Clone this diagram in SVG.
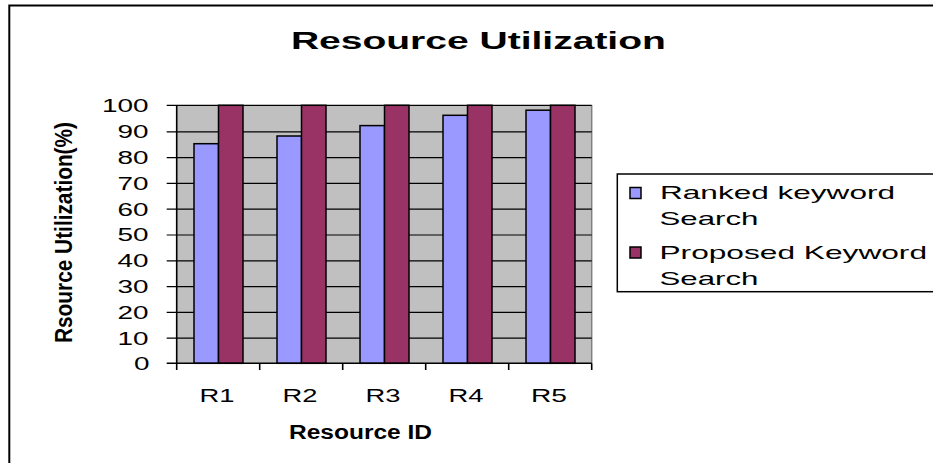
<svg xmlns="http://www.w3.org/2000/svg" width="933" height="463" viewBox="0 0 933 463">
  <style>
    text { font-family: "Liberation Sans", Arial, sans-serif; fill: #000; }
    .title { font-size: 23px; font-weight: bold; }
    .axis-title { font-size: 20px; font-weight: bold; }
    .tick { font-size: 17.5px; }
    .cat { font-size: 19px; }
    .legend-text { font-size: 18.5px; }
    .grid { stroke: #000; stroke-width: 1.2; }
    .axis { stroke: #000; stroke-width: 1.6; fill: none; }
    .bar { stroke: #000; stroke-width: 1.5; }
    .ranked { fill: #9999FF; }
    .proposed { fill: #993366; }
  </style>

  <rect x="0" y="0" width="933" height="463" fill="#fff"/>

  <!-- chart frame (runs off the right and bottom edges) -->
  <path d="M9.3 470 V5.5 H940" fill="none" stroke="#000" stroke-width="2"/>

  <g id="title">
    <text class="title" x="478.4" y="49.3" text-anchor="middle" textLength="375" lengthAdjust="spacingAndGlyphs">Resource Utilization</text>
  </g>

  <g id="plot-area">
    <rect x="176.7" y="105" width="415" height="258.3" fill="#C0C0C0"/>
    <line x1="591.7" y1="105" x2="591.7" y2="363.3" stroke="#808080" stroke-width="1.5"/>
    <!-- horizontal gridlines every 10 % -->
    <g class="grid">
      <line x1="166.7" y1="105.3" x2="591.7" y2="105.3"/>
      <line x1="166.7" y1="131.8" x2="591.7" y2="131.8"/>
      <line x1="166.7" y1="157.6" x2="591.7" y2="157.6"/>
      <line x1="166.7" y1="183.4" x2="591.7" y2="183.4"/>
      <line x1="166.7" y1="209.2" x2="591.7" y2="209.2"/>
      <line x1="166.7" y1="235" x2="591.7" y2="235"/>
      <line x1="166.7" y1="260.8" x2="591.7" y2="260.8"/>
      <line x1="166.7" y1="286.6" x2="591.7" y2="286.6"/>
      <line x1="166.7" y1="312.4" x2="591.7" y2="312.4"/>
      <line x1="166.7" y1="338.2" x2="591.7" y2="338.2"/>
    </g>
  </g>

  <g id="bars">
    <!-- R1 -->
    <rect class="bar ranked" x="194" y="143.7" width="24.5" height="219.6"/>
    <rect class="bar proposed" x="218.5" y="105.3" width="24.5" height="258"/>
    <!-- R2 -->
    <rect class="bar ranked" x="277" y="136" width="24.5" height="227.3"/>
    <rect class="bar proposed" x="301.5" y="105.3" width="24.5" height="258"/>
    <!-- R3 -->
    <rect class="bar ranked" x="360" y="125.6" width="24.5" height="237.7"/>
    <rect class="bar proposed" x="384.5" y="105.3" width="24.5" height="258"/>
    <!-- R4 -->
    <rect class="bar ranked" x="443" y="115.3" width="24.5" height="248"/>
    <rect class="bar proposed" x="467.5" y="105.3" width="24.5" height="258"/>
    <!-- R5 -->
    <rect class="bar ranked" x="526" y="110.2" width="24.5" height="253.1"/>
    <rect class="bar proposed" x="550.5" y="105.3" width="24.5" height="258"/>
  </g>

  <g id="axes">
    <line class="axis" x1="176.7" y1="105" x2="176.7" y2="363.3"/>
    <line class="axis" x1="166.7" y1="363.3" x2="591.7" y2="363.3"/>
    <!-- category ticks -->
    <g class="axis">
      <line x1="176.7" y1="363.3" x2="176.7" y2="370"/>
      <line x1="259.7" y1="363.3" x2="259.7" y2="370"/>
      <line x1="342.7" y1="363.3" x2="342.7" y2="370"/>
      <line x1="425.7" y1="363.3" x2="425.7" y2="370"/>
      <line x1="508.7" y1="363.3" x2="508.7" y2="370"/>
      <line x1="591.7" y1="363.3" x2="591.7" y2="370"/>
    </g>
  </g>

  <g id="y-tick-labels" text-anchor="end">
    <text class="tick" x="148.5" y="111.6" textLength="46.6" lengthAdjust="spacingAndGlyphs">100</text>
    <text class="tick" x="148.5" y="138.1" textLength="31" lengthAdjust="spacingAndGlyphs">90</text>
    <text class="tick" x="148.5" y="163.9" textLength="31" lengthAdjust="spacingAndGlyphs">80</text>
    <text class="tick" x="148.5" y="189.7" textLength="31" lengthAdjust="spacingAndGlyphs">70</text>
    <text class="tick" x="148.5" y="215.5" textLength="31" lengthAdjust="spacingAndGlyphs">60</text>
    <text class="tick" x="148.5" y="241.3" textLength="31" lengthAdjust="spacingAndGlyphs">50</text>
    <text class="tick" x="148.5" y="267.1" textLength="31" lengthAdjust="spacingAndGlyphs">40</text>
    <text class="tick" x="148.5" y="292.9" textLength="31" lengthAdjust="spacingAndGlyphs">30</text>
    <text class="tick" x="148.5" y="318.7" textLength="31" lengthAdjust="spacingAndGlyphs">20</text>
    <text class="tick" x="148.5" y="344.5" textLength="31" lengthAdjust="spacingAndGlyphs">10</text>
    <text class="tick" x="149.5" y="369.6" textLength="15.5" lengthAdjust="spacingAndGlyphs">0</text>
  </g>

  <g id="x-tick-labels" text-anchor="middle">
    <text class="cat" x="217" y="401.5" textLength="35" lengthAdjust="spacingAndGlyphs">R1</text>
    <text class="cat" x="300" y="401.5" textLength="35" lengthAdjust="spacingAndGlyphs">R2</text>
    <text class="cat" x="383" y="401.5" textLength="35" lengthAdjust="spacingAndGlyphs">R3</text>
    <text class="cat" x="466" y="401.5" textLength="35" lengthAdjust="spacingAndGlyphs">R4</text>
    <text class="cat" x="549" y="401.5" textLength="36" lengthAdjust="spacingAndGlyphs">R5</text>
  </g>

  <g id="x-axis-title">
    <text class="axis-title" x="360.5" y="438.5" text-anchor="middle" style="font-size:19.5px" textLength="143" lengthAdjust="spacingAndGlyphs">Resource ID</text>
  </g>

  <g id="y-axis-title">
    <text class="axis-title" transform="translate(72 232.5) rotate(-90)" x="0" y="0" text-anchor="middle" style="font-size:23px" textLength="221" lengthAdjust="spacingAndGlyphs">Rsource Utilization(%)</text>
  </g>

  <g id="legend">
    <rect x="617.3" y="174" width="340" height="117.7" fill="#fff" stroke="#000" stroke-width="1.5"/>
    <g id="legend-ranked">
      <rect class="bar ranked" x="630" y="187.5" width="11" height="11" stroke-width="1.3"/>
      <text class="legend-text" x="660" y="199.3" textLength="235" lengthAdjust="spacingAndGlyphs">Ranked keyword</text>
      <text class="legend-text" x="659.5" y="225" textLength="99" lengthAdjust="spacingAndGlyphs">Search</text>
    </g>
    <g id="legend-proposed">
      <rect class="bar proposed" x="630" y="247" width="11" height="11" stroke-width="1.3"/>
      <text class="legend-text" x="659.5" y="259.3" textLength="267.5" lengthAdjust="spacingAndGlyphs">Proposed Keyword</text>
      <text class="legend-text" x="659.5" y="285" textLength="99" lengthAdjust="spacingAndGlyphs">Search</text>
    </g>
  </g>
</svg>
